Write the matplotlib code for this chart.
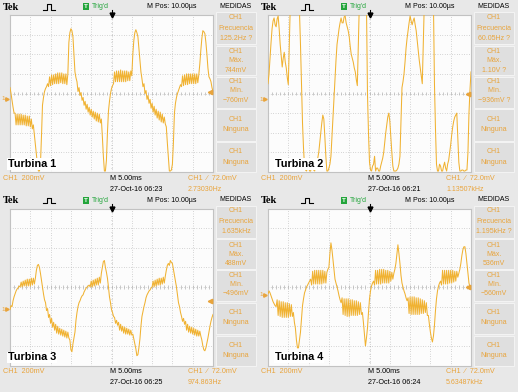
import numpy as np
import matplotlib
matplotlib.use("Agg")
import matplotlib.pyplot as plt
from matplotlib.lines import Line2D
from matplotlib.patches import Rectangle

# ---------------- data (values in screen divisions, 200 mV/div, 5 ms/div) ----------------
time_div = np.linspace(0, 10, 201)

turbina1 = [0.3, 0.0, -0.35, -0.7, -1.0, -1.0, -1.6, -1.05, -1.6, -1.05,
            -1.6, -1.05, -1.6, -1.1, -1.6, -1.1, -1.65, -1.15, -1.65, -1.15,
            -1.7, -1.3, -1.8, -1.6, -2.1, -2.6, -3.1, -3.6, -3.95, -3.95,
            -3.6, -2.2, -0.6, -0.2, 0.1, 0.25, 0.35, 0.5, 0.35, 0.85,
            0.4, 0.95, 0.45, 0.95, 0.5, 1.0, 0.5, 1.05, 0.5, 1.05,
            0.55, 1.05, 0.5, 1.0, 0.5, 1.0, 0.45, 1.0, 2.6, 3.1,
            3.3, 3.2, 2.9, 2.0, 1.1, 0.8, 0.6, 0.1, 0.3, -0.1,
            0.05, -0.35, -0.2, -0.6, -0.4, -0.8, -0.55, -0.95, -0.7, -1.1,
            -0.8, -1.2, -0.9, -1.3, -0.95, -1.4, -1.0, -1.45, -1.05, -1.5,
            -1.3, -2.2, -3.2, -3.95, -3.95, -3.4, -2.0, -0.9, -0.4, 0.0,
            0.25, 0.4, 0.5, 1.1, 0.6, 1.15, 0.6, 1.15, 0.6, 1.2,
            0.6, 1.15, 0.6, 1.15, 0.6, 1.15, 0.65, 1.1, 0.65, 1.15,
            0.9, 2.0, 2.7, 3.1, 3.25, 3.1, 2.9, 2.3, 1.7, 1.1,
            0.75, 0.35, 0.5, 0.0, 0.15, -0.3, -0.1, -0.5, -0.3, -0.75,
            -0.5, -0.95, -0.65, -1.1, -0.8, -1.25, -0.9, -1.35, -0.95, -1.45,
            -1.05, -1.5, -1.2, -1.55, -1.7, -2.5, -3.2, -3.95, -3.95, -3.9,
            -3.6, -2.5, -1.0, -0.5, -0.2, 0.0, 0.15, 0.3, 0.45, 0.35,
            0.9, 0.4, 0.95, 0.45, 1.0, 0.45, 1.0, 0.5, 1.0, 0.5,
            1.0, 0.5, 1.0, 0.5, 1.0, 0.55, 0.95, 1.5, 2.2, 2.8,
            3.2, 3.15, 3.05, 2.6, 2.0, 1.3, 0.85, 0.75, 0.6, 0.3,
            0.1]

turbina2 = [0.5, 1.0, 1.8, 2.6, 3.3, 3.7, 3.85, 3.5, 3.4, 3.8,
            3.95, 3.3, 2.5, 1.9, 1.35, 1.8, 2.1, 1.6, 1.3, 0.8,
            0.45, 2.5, 4.6, 4.6, 4.6, 4.6, 4.6, 4.6, 4.6, 4.6,
            4.6, 4.2, 2.5, 0.5, -1.5, -2.8, -3.7, -3.9, -3.95, -3.7,
            -3.8, -3.95, -3.95, -3.7, -3.6, -3.9, -3.95, -3.6, -3.4, -3.3,
            -3.0, -2.5, -2.0, -1.5, -1.1, -1.3, -2.2, -3.2, -3.95, -3.95,
            -3.8, -3.6, -3.2, -2.2, -1.2, -0.2, 0.8, 1.7, 2.5, 2.9,
            3.3, 3.6, 3.85, 3.6, 3.6, 3.9, 3.95, 3.6, 3.4, 3.2,
            2.9, 2.4, 2.0, 1.8, 1.6, 1.3, 1.1, 0.7, 0.4, 2.5,
            4.6, 4.6, 4.6, 4.6, 4.6, 4.6, 4.6, 4.6, 0.0, -2.0,
            -3.5, -3.9, -3.95, -3.7, -3.6, -3.2, -3.95, -3.8, -3.8, -3.95,
            -3.95, -3.7, -3.5, -3.3, -3.0, -2.5, -2.0, -1.6, -1.2, -1.0,
            -1.4, -2.2, -3.0, -3.7, -3.95, -3.95, -3.95, -3.9, -3.8, -3.6,
            -3.2, -1.5, 0.3, 0.6, 1.0, 1.6, 2.3, 2.8, 3.2, 3.6,
            3.95, 3.7, 3.5, 3.7, 3.85, 3.5, 3.2, 2.7, 2.2, 1.7,
            1.3, 0.9, 0.5, 2.5, 4.6, 4.6, 4.6, 4.6, 4.6, 4.6,
            4.6, 4.6, 4.6, 4.6, 0.5, -1.8, -3.6, -3.95, -3.95, -3.6,
            -3.7, -3.95, -3.95, -3.7, -3.5, -3.8, -3.95, -3.6, -3.4, -3.0,
            -2.6, -2.1, -1.7, -1.4, -1.2, -1.1, -1.0, -2.2, -3.5, -3.95,
            -3.95, -3.9, -3.9, -3.95, -3.95, -3.9, -3.9, -3.0, -1.0, 0.2,
            1.1]

turbina3 = [-1.15, -0.95, -1.0, -0.7, -0.5, -0.35, -0.2, -0.1, -0.05, 0.05,
            0.0, 0.25, 0.0, 0.3, 0.05, 0.35, 0.05, 0.4, 0.05, 0.4,
            0.05, 0.45, 0.1, 0.45, 0.15, 0.45, 0.85, 1.1, 1.15, 1.0,
            0.7, 0.35, 0.0, -0.35, -0.65, -0.8, -1.2, -1.1, -1.55, -1.4,
            -1.85, -1.6, -2.05, -1.8, -2.2, -1.9, -2.35, -2.0, -2.4, -2.1,
            -2.45, -2.15, -2.5, -2.2, -2.55, -2.25, -2.6, -2.3, -2.6, -2.7,
            -3.2, -3.3, -2.9, -2.6, -2.3, -1.7, -1.3, -1.0, -0.8, -0.7,
            -0.55, -0.45, -0.4, -0.25, -0.15, -0.05, 0.0, 0.05, 0.1, 0.0,
            0.3, 0.0, 0.35, 0.05, 0.4, 0.1, 0.45, 0.1, 0.5, 0.2,
            0.7, 1.0, 1.3, 1.35, 1.0, 0.75, 0.45, 0.0, -0.5, -0.8,
            -1.15, -1.3, -1.5, -1.55, -1.85, -1.7, -1.95, -1.8, -2.2, -1.9,
            -2.25, -2.0, -2.35, -2.05, -2.4, -2.1, -2.4, -2.15, -2.45, -2.2,
            -2.45, -2.4, -2.65, -2.9, -3.15, -3.5, -3.45, -3.1, -2.65, -2.0,
            -1.5, -1.25, -1.0, -0.8, -0.55, -0.4, -0.3, -0.2, -0.15, -0.05,
            0.0, 0.3, 0.0, 0.35, 0.05, 0.4, 0.1, 0.45, 0.1, 0.45,
            0.15, 0.5, 0.2, 0.55, 0.85, 1.1, 1.2, 1.1, 1.35, 1.25,
            1.2, 0.9, 0.6, 0.3, 0.0, -0.4, -0.8, -1.0, -1.3, -1.5,
            -1.75, -1.6, -1.9, -1.75, -2.2, -1.9, -2.3, -2.0, -2.35, -2.05,
            -2.4, -2.1, -2.45, -2.15, -2.5, -2.2, -2.5, -2.25, -2.5, -2.7,
            -3.0, -3.2, -3.25, -3.1, -2.85, -2.6, -2.3, -2.0, -1.75, -1.55,
            -1.4]

turbina4 = [-0.35, -0.2, -0.3, -0.45, -0.6, -0.75, -0.85, -0.95, -1.0, -0.65,
            -1.45, -0.7, -1.5, -0.75, -1.55, -0.75, -1.55, -0.8, -1.55, -0.8,
            -1.55, -0.85, -1.5, -0.9, -1.5, -1.3, -1.8, -2.1, -2.7, -3.1,
            -3.1, -2.7, -2.3, -1.6, -0.95, -0.6, -0.3, -0.15, 0.0, 0.1,
            0.2, 0.3, 0.4, 0.1, 0.8, 0.15, 0.85, 0.15, 0.85, 0.15,
            0.85, 0.15, 0.85, 0.15, 0.85, 0.2, 0.8, 0.2, 0.75, 0.9,
            1.0, 1.7, 2.25, 1.9, 1.4, 0.9, 0.4, 0.2, 0.0, -0.2,
            -0.45, -0.65, -0.8, -0.55, -1.4, -0.6, -1.45, -0.6, -1.5, -0.6,
            -1.5, -0.65, -1.45, -0.65, -1.45, -0.7, -1.45, -0.7, -1.45, -0.75,
            -1.4, -0.8, -1.4, -1.3, -1.8, -2.4, -3.0, -2.6, -2.1, -1.3,
            -0.6, -0.2, 0.05, 0.2, 0.3, 0.1, 0.85, 0.15, 0.85, 0.15,
            0.9, 0.15, 0.9, 0.2, 0.9, 0.2, 0.85, 0.2, 0.85, 0.2,
            0.8, 0.3, 0.75, 0.4, 0.7, 0.9, 1.2, 1.7, 2.15, 1.7,
            1.2, 0.6, 0.2, 0.0, -0.2, -0.35, -0.55, -0.7, -0.55, -1.35,
            -0.5, -1.4, -0.5, -1.4, -0.5, -1.4, -0.55, -1.4, -0.55, -1.4,
            -0.6, -1.35, -0.65, -1.35, -0.7, -1.3, -0.8, -1.45, -1.45, -1.9,
            -2.3, -2.6, -2.8, -2.5, -1.95, -1.2, -0.6, -0.2, 0.05, 0.2,
            0.3, 0.1, 0.85, 0.15, 0.85, 0.15, 0.85, 0.15, 0.85, 0.2,
            0.85, 0.2, 0.85, 0.25, 0.8, 0.3, 0.8, 0.5, 0.7, 0.9,
            1.2, 1.6, 1.9, 2.05, 2.05, 1.7, 1.2, 0.7, 0.2, 0.0,
            -0.1]

titles = ["Turbina 1", "Turbina 2", "Turbina 3", "Turbina 4"]
frecuencia = ["125.2Hz ?", "60.05Hz ?", "1.635kHz", "1.195kHz ?"]
maximo = ["744mV", "1.10V ?", "488mV", "536mV"]
minimo = ["\u2212760mV", "\u2212936mV ?", "\u2212496mV", "\u2212560mV"]
fechas = ["27-Oct-16 06:23", "27-Oct-16 06:21", "27-Oct-16 06:25", "27-Oct-16 06:24"]
contador = ["2.73030Hz", "1.13507kHz", "974.863Hz", "5.63487kHz"]
ground_div = [-0.28, -0.3, -1.13, -0.4]
trigger_div = [0.1, 0.0, -0.73, 0.0]
waves = [turbina1, turbina2, turbina3, turbina4]

# ---------------- styling / layout ----------------
W, H = 518, 392
TRACE = "#F0B232"
ORANGE = "#E8A43C"
GREEN = "#23A53B"
SANS = ["Liberation Sans", "DejaVu Sans"]
SERIF = ["Liberation Serif", "DejaVu Serif"]

fig = plt.figure(figsize=(W / 100, H / 100), dpi=100)
fig.patch.set_facecolor("#e8e8e8")


def X(px):
    return px / W


def Y(py):
    return 1 - py / H


def ftext(x, y, s, **kw):
    kw.setdefault("family", SANS)
    kw.setdefault("size", 5)
    kw.setdefault("va", "center")
    kw.setdefault("ha", "left")
    fig.text(X(x), Y(y), s, **kw)


offsets = [(0, 0), (258, 0), (0, 193.5), (258, 193.5)]
GX0, GX1, GY0, GY1 = 10, 213, 15, 172
boxes = [(12, 44), (45.5, 75), (76.5, 107.5), (109, 140.5), (142, 172)]

for i, (ox, oy) in enumerate(offsets):
    # sidebar boxes
    for (b0, b1) in boxes:
        fig.patches.append(Rectangle((X(ox + 216), Y(oy + b1)), 40 / W, (b1 - b0) / H,
                                     transform=fig.transFigure, facecolor="#dfdfdf",
                                     edgecolor="#f4f4f4", lw=0.7))
    # scope screen
    ax = fig.add_axes([X(ox + GX0), Y(oy + GY1), (GX1 - GX0) / W, (GY1 - GY0) / H])
    ax.set_xlim(0, 10)
    ax.set_ylim(-4, 4)
    ax.set_facecolor("#fcfcfc")
    ax.set_xticks([])
    ax.set_yticks([])
    for s in ax.spines.values():
        s.set_color("#c2c2c2")
        s.set_linewidth(0.8)
    for k in range(1, 10):
        ax.axvline(k, color="#b0b0b0", lw=0.6, ls=(0, (0.7, 2.2)), zorder=1)
    for k in range(-3, 4):
        ax.axhline(k, color="#b0b0b0", lw=0.6, ls=(0, (0.7, 2.2)), zorder=1)
    ax.vlines(np.arange(0.2, 10, 0.2), -0.08, 0.08, color="#b4b4b4", lw=0.5, zorder=1)
    ax.hlines(np.arange(-3.8, 4, 0.2), 4.96, 5.04, color="#b4b4b4", lw=0.5, zorder=1)

    ax.plot(time_div, waves[i], color=TRACE, lw=0.75, zorder=3, solid_joinstyle="round")

    # ground / trigger markers
    yt = ax.get_yaxis_transform()
    ax.text(-0.035, ground_div[i], "1", transform=yt, color=ORANGE, size=4.5,
            family=SANS, ha="center", va="center")
    ax.plot([-0.013], [ground_div[i]], marker=">", ms=2.5, color=ORANGE,
            transform=yt, clip_on=False)
    ax.plot([0.985], [trigger_div[i]], marker="<", ms=3.2, color=ORANGE,
            transform=yt, clip_on=False, zorder=4)
    ax.plot([0.5], [1.0], marker="v", ms=3.5, color="black", transform=ax.transAxes,
            clip_on=False, zorder=5)
    ax.plot([0.5, 0.5], [1.0, 1.03], color="black", lw=0.8, transform=ax.transAxes,
            clip_on=False, zorder=5)

    # header
    ftext(ox + 3, oy + 7, "Tek", family=SERIF, weight="bold", size=7.5)
    fig.lines.append(Line2D([X(ox + 43), X(ox + 46.5), X(ox + 46.5), X(ox + 51), X(ox + 51), X(ox + 55)],
                            [Y(oy + 9.5), Y(oy + 9.5), Y(oy + 4), Y(oy + 4), Y(oy + 9.5), Y(oy + 9.5)],
                            transform=fig.transFigure, color="black", lw=0.8))
    fig.patches.append(Rectangle((X(ox + 82.5), Y(oy + 10)), 6.5 / W, 6.5 / H,
                                 transform=fig.transFigure, facecolor=GREEN, edgecolor="none"))
    ftext(ox + 85.75, oy + 6.8, "T", color="white", weight="bold", size=4.5, ha="center")
    ftext(ox + 91.5, oy + 7, "Trig'd", color=GREEN, size=5)
    ftext(ox + 147, oy + 7, "M Pos: 10.00\u00b5s", size=5)
    ftext(ox + 236, oy + 6, "MEDIDAS", size=5, ha="center")

    # sidebar measurements
    side = [("CH1", 17.3), ("Frecuencia", 28), (frecuencia[i], 38.3),
            ("CH1", 51.7), ("M\u00e1x.", 61), (maximo[i], 70),
            ("CH1", 81.7), ("M\u00edn.", 91), (minimo[i], 100),
            ("CH1", 119.3), ("Ninguna", 129.3),
            ("CH1", 151.7), ("Ninguna", 162.3)]
    for s, yy in side:
        ftext(ox + 236, oy + yy, s, color=ORANGE, size=5, ha="center")

    # footer
    ftext(ox + 3, oy + 178, "CH1  200mV", color=ORANGE, size=5.2)
    ftext(ox + 110, oy + 178, "M 5.00ms", size=5.2)
    ftext(ox + 188, oy + 178, "CH1  \u2215  72.0mV", color=ORANGE, size=5.2)
    ftext(ox + 110, oy + 189, fechas[i], size=5.2)
    ftext(ox + 188, oy + 189, contador[i], color=ORANGE, size=5)

    # panel label
    lx = 8 if ox == 0 else 17
    ftext(ox + lx, oy + 164, titles[i], weight="bold", size=7.8, zorder=6,
          bbox=dict(facecolor="white", edgecolor="none", pad=0.6))

fig.savefig("out.png", dpi=100, facecolor=fig.get_facecolor())
